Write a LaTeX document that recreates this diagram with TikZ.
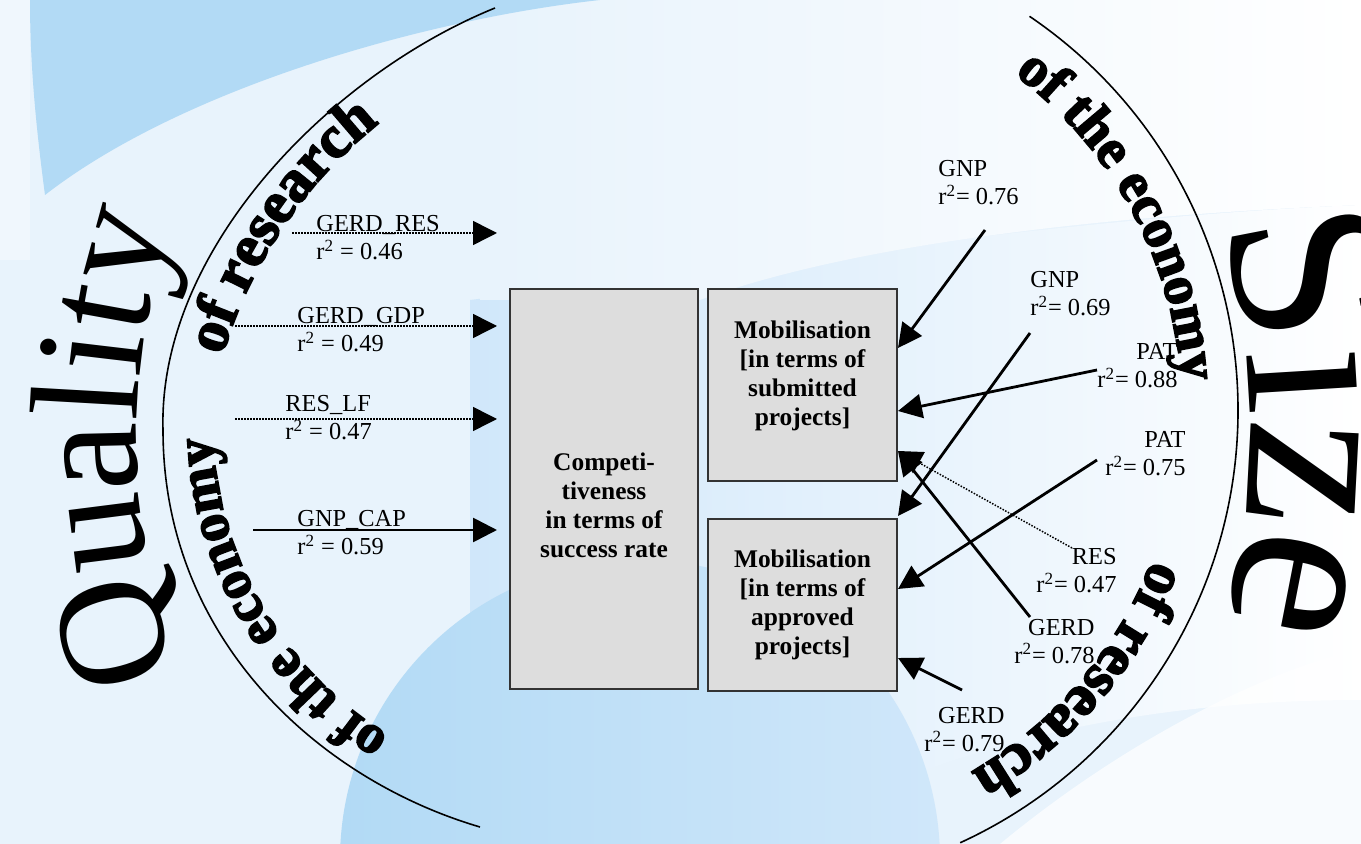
\documentclass[tikz,border=0pt]{standalone}
\usepackage{fontspec}
\setmainfont{Liberation Serif}
\newfontfamily\heavyfont[BoldFeatures={FakeBold=3}]{Liberation Serif}
\usetikzlibrary{arrows.meta,calc,decorations.text,positioning}

\definecolor{boxgray}{RGB}{221,221,221}
\definecolor{bgpale}{RGB}{232,243,252}
\definecolor{bgblue}{RGB}{178,218,245}
\definecolor{bgmid}{RGB}{208,231,250}

\tikzset{
  mobbox/.style={draw=black!80, fill=boxgray, line width=1pt, minimum width=94.5pt},
  boxtext/.style={font=\bfseries\fontsize{12.7}{14.5}\selectfont, align=center, inner sep=0pt},
  corr/.style={font=\fontsize{12.2}{14}\selectfont, align=left, inner sep=0pt},
  solidarrow/.style={line width=1.4pt, -{Triangle[length=12pt,width=12pt]}},
  dotarrow/.style={line width=0.75pt, dash pattern=on 0.75pt off 0.75pt, -{Triangle[length=12pt,width=12pt]}},
  rim/.style={line width=0.8pt},
  arctext/.style={decorate, decoration={text along path, text align=center, text={#1}}}
}
\newcommand{\rimfont}[1]{\heavyfont\bfseries\fontsize{#1}{#1}\selectfont}

\begin{document}
\begin{tikzpicture}[x=0.5pt, y=0.5pt]
    \useasboundingbox (0,0) rectangle (1361,-844);
    \clip (0,0) rectangle (1361,-844);

    % background
    \fill[bgpale] (0,0) rectangle (1361,-844);
    \shade[left color=bgmid, right color=white] (470,-300) .. controls (800,-260) and (1100,-215) .. (1361,-205)
        -- (1361,-700) .. controls (1150,-700) and (1000,-740) .. (900,-780) -- (470,-780) -- cycle;
    \shade[left color=bgpale, middle color=white, right color=white] (480,0) -- (1361,0) -- (1361,-205)
        .. controls (1100,-215) and (850,-245) .. (700,-300) -- (480,-300) -- cycle;
    \fill[white, opacity=0.7] (1000,-844) .. controls (1150,-720) and (1300,-660) .. (1361,-650) -- (1361,-844) -- cycle;
    \fill[bgblue] (30,0) -- (600,0) .. controls (420,-20) and (180,-90) .. (45,-195)
        .. controls (35,-120) and (30,-60) .. (30,0) -- cycle;
    \fill[white, opacity=0.35] (0,0) rectangle (30,-260);
    \shade[left color=bgblue, right color=bgmid] (640,-860) circle[radius=300];

    % the two rims
    \draw[rim] (495,-8) .. controls (330,-75) and (158,-250) .. (163,-430)
        .. controls (163,-640) and (320,-780) .. (480,-827);
    \draw[rim] ([shift={(55.8:476)}]762,-410) arc[start angle=55.8, end angle=-65.4, radius=476];

    % texts along the rims
    \path[arctext={|\fontsize{77}{77}\selectfont|Quality}]
        ([shift={(206.2:700)}]837,-440) arc[start angle=206.2, end angle=155, radius=700];
    \path[arctext={|\fontsize{118}{118}\selectfont|Size}]
        ([shift={(20:750)}]500,-430) arc[start angle=20, end angle=-19, radius=750];
    \path[arctext={|\rimfont{30}|of research}]
        ([shift={(176:468)}]671,-489) arc[start angle=176, end angle=116, radius=468];
    \path[arctext={|\rimfont{28}|of the economy}]
        ([shift={(248:367)}]580,-422) arc[start angle=248, end angle=173, radius=367];
    \path[arctext={|\rimfont{28}|of the economy}]
        ([shift={(64:420)}]762,-410) arc[start angle=64, end angle=-7, radius=420];
    \path[arctext={|\rimfont{30}|of research}]
        ([shift={(-6:418)}]762,-410) arc[start angle=-6, end angle=-75, radius=418];

    % boxes
    \node[mobbox, minimum width=94pt, minimum height=200pt] (comp) at (604,-489) {};
    \node[mobbox, minimum height=96pt, right=4pt of comp.north east, anchor=north west] (sub) {};
    \node[mobbox, minimum height=86pt, below=18pt of sub] (app) {};
    \node[boxtext] (comptext) at ($(comp.center)+(0,-16)$) {Competi-\\tiveness\\in terms of\\success rate};
    \node[boxtext] (subtext) at ($(sub.center)+(0,9)$) {Mobilisation\\{}[in terms of\\submitted\\projects]};
    \node[boxtext] (apptext) at (app.center) {Mobilisation\\{}[in terms of\\approved\\projects]};

    % quality side
    \node[corr, anchor=base west] (gerdres) at (316,-260) {GERD\_RES\\r\textsuperscript{2} = 0.46};
    \node[corr, anchor=base west] (gerdgdp) at (297,-352) {GERD\_GDP\\r\textsuperscript{2} = 0.49};
    \node[corr, anchor=base west] (reslf) at (285,-440) {RES\_LF\\r\textsuperscript{2} = 0.47};
    \node[corr, anchor=base west] (gnpcap) at (297,-555) {GNP\_CAP\\r\textsuperscript{2} = 0.59};
    \coordinate (gerdresS) at (292,-233);
    \coordinate (gerdgdpS) at (235,-326);
    \coordinate (reslfS) at (235,-419);
    \coordinate (gnpcapS) at (253,-530);
    \draw[dotarrow, shorten >=6pt] (gerdresS) -- (gerdresS -| comp.west);
    \draw[dotarrow, shorten >=6pt] (gerdgdpS) -- (gerdgdpS -| comp.west);
    \draw[dotarrow, shorten >=6pt] (reslfS) -- (reslfS -| comp.west);
    \draw[solidarrow, shorten >=6pt] (gnpcapS) -- (gnpcapS -| comp.west);

    % size side
    \node[corr, anchor=base west] (gnpA) at (938,-205) {GNP\\r\textsuperscript{2}= 0.76};
    \node[corr, anchor=base west] (gnpB) at (1030,-316) {GNP\\r\textsuperscript{2}= 0.69};
    \node[corr, align=right, anchor=base east] (patA) at (1178,-388) {PAT\\r\textsuperscript{2}= 0.88};
    \node[corr, align=right, anchor=base east] (patB) at (1186,-476) {PAT\\r\textsuperscript{2}= 0.75};
    \node[corr, align=right, anchor=base east] (resR) at (1117,-593) {RES\\r\textsuperscript{2}= 0.47};
    \node[corr, align=right, anchor=base east] (gerdA) at (1095,-663) {GERD\\r\textsuperscript{2}= 0.78};
    \node[corr, align=right, anchor=base east] (gerdB) at (1005,-751) {GERD\\r\textsuperscript{2}= 0.79};
    \coordinate (gnpAS) at (985,-230);
    \coordinate (gnpBS) at (1030,-333);
    \coordinate (patAS) at (1097,-370);
    \coordinate (patBS) at (1097,-460);
    \coordinate (resRS) at (1072,-548);
    \coordinate (gerdAS) at (1030,-617);
    \coordinate (gerdBS) at (962,-690);
    \draw[solidarrow] (gnpAS) -- ($(sub.north east)+(0,-60)$);
    \draw[solidarrow] (patAS) -- ($(sub.north east)+(0,-123)$);
    \draw[dotarrow] (resRS) -- ($(sub.south east)+(0,31)$);
    \draw[solidarrow] (gerdAS) -- ($(sub.south east)+(0,31)$);
    \draw[solidarrow] (gnpBS) -- ($(app.north east)+(0,2)$);
    \draw[solidarrow] (patBS) -- ($(app.north east)+(0,-71)$);
    \draw[solidarrow] (gerdBS) -- ($(app.south east)+(0,34)$);
\end{tikzpicture}
\end{document}
